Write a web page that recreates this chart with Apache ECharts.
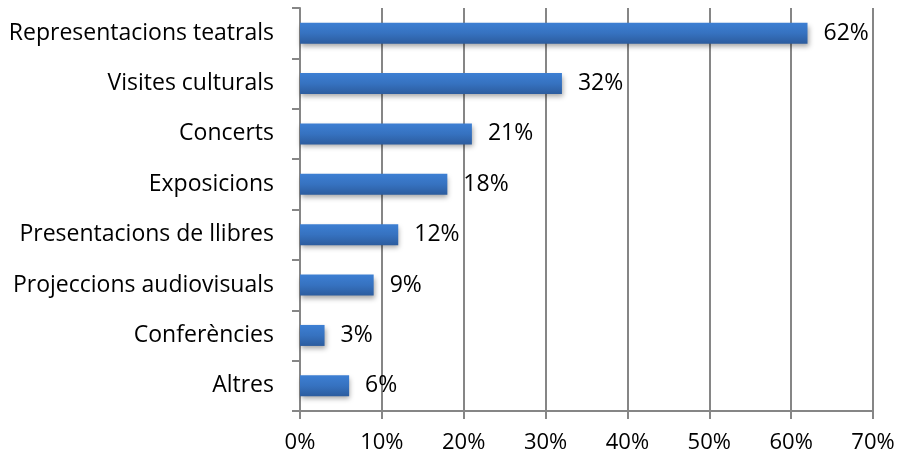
<!DOCTYPE html>
<html><head><meta charset="utf-8">
<script src="https://cdn.jsdelivr.net/npm/echarts@6/dist/echarts.min.js"></script>
<style>html,body{margin:0;padding:0;background:#fff}#c{width:899px;height:458px}</style>
</head><body><div id="c"></div>
<script>
const categories = ["Representacions teatrals","Visites culturals","Concerts","Exposicions","Presentacions de llibres","Projeccions audiovisuals","Conferències","Altres"];
const values = [62,32,21,18,12,9,3,6];
const xTicks = [0,10,20,30,40,50,60,70];

const chart = echarts.init(document.getElementById('c'));
const font = "Open Sans";
chart.setOption({
  animation:false,
  grid:{left:300,right:26,top:8,bottom:47,containLabel:false},
  xAxis:{type:'value',min:0,max:70,interval:10,
    axisLine:{show:true,lineStyle:{color:'#868686',width:2}},
    axisTick:{show:true,length:8,lineStyle:{color:'#868686',width:2}},
    axisLabel:{formatter:v=>v+'%',color:'#000',fontFamily:font,fontSize:22,margin:21},
    splitLine:{show:true,lineStyle:{color:'#868686',width:2}}},
  yAxis:{type:'category',data:categories.slice().reverse(),
    axisLine:{show:true,lineStyle:{color:'#868686',width:2}},
    axisTick:{show:true,length:8,lineStyle:{color:'#868686',width:2}},
    axisLabel:{color:'#000',fontFamily:font,fontSize:23,margin:26}},
  series:[{type:'bar',data:values.slice().reverse(),barWidth:21,
    itemStyle:{color:new echarts.graphic.LinearGradient(0,0,0,1,[{offset:0,color:'#3d7fd3'},{offset:0.5,color:'#3672c0'},{offset:1,color:'#2c5c9e'}]),
      shadowColor:'rgba(0,0,0,0.35)',shadowBlur:5,shadowOffsetX:1,shadowOffsetY:3},
    label:{show:true,position:'right',distance:16,formatter:p=>p.value+'%',color:'#000',fontFamily:font,fontSize:23}}]
});
</script></body></html>
